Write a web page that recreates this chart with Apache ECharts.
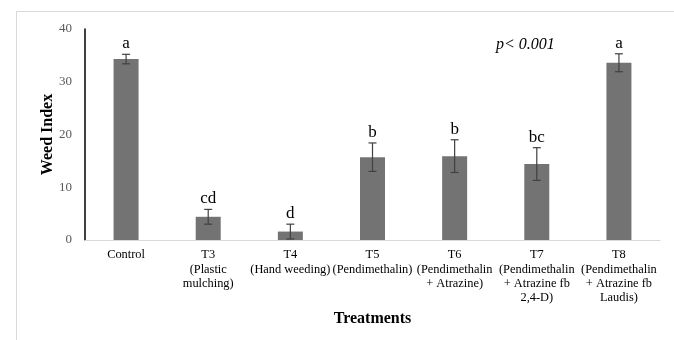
<!DOCTYPE html>
<html><head><meta charset="utf-8">
<script src="https://cdn.jsdelivr.net/npm/echarts@6/dist/echarts.min.js"></script>
<style>html,body{margin:0;padding:0;background:#fff}#c{width:674px;height:340px}</style>
</head><body><div id="c"></div>
<script>
var categories = ['Control', 'T3\n(Plastic\nmulching)', 'T4\n(Hand weeding)', 'T5\n(Pendimethalin)', 'T6\n(Pendimethalin\n+ Atrazine)', 'T7\n(Pendimethalin\n+ Atrazine fb\n2,4-D)', 'T8\n(Pendimethalin\n+ Atrazine fb\nLaudis)'];
var means = [34.3, 4.4, 1.6, 15.7, 15.9, 14.4, 33.6];
var errors = [0.9, 1.4, 1.4, 2.7, 3.1, 3.1, 1.7];
var letters = ['a', 'cd', 'd', 'b', 'b', 'bc', 'a'];
var yTicks = [0, 10, 20, 30, 40];

var chart = echarts.init(document.getElementById('c'), null, {renderer: 'canvas'});
var serif = '"Liberation Serif", "Times New Roman", serif';
var errData = means.map(function (m, i) { return [i, m, errors[i], letters[i]]; });

chart.setOption({
  animation: false,
  grid: {left: 85, right: 14, top: 29, bottom: 100},
  graphic: [
    {type: 'line', shape: {x1: 16.5, y1: 11.5, x2: 674, y2: 11.5}, style: {stroke: '#d9d9d9', lineWidth: 1}},
    {type: 'line', shape: {x1: 16.5, y1: 11.5, x2: 16.5, y2: 340}, style: {stroke: '#d9d9d9', lineWidth: 1}},
    {type: 'text', left: 496, top: 37, style: {text: 'p< 0.001', font: 'italic 16px ' + serif, fill: '#000'}}
  ],
  xAxis: {
    type: 'category', data: categories,
    name: 'Treatments', nameLocation: 'middle', nameGap: 71, nameMoveOverlap: false,
    nameTextStyle: {fontFamily: serif, fontWeight: 'bold', fontSize: 16, color: '#000'},
    axisLine: {lineStyle: {color: '#d9d9d9', width: 1}},
    axisTick: {show: false},
    axisLabel: {fontFamily: serif, fontSize: 12.4, color: '#000', lineHeight: 14.3, margin: 8, interval: 0}
  },
  yAxis: {
    type: 'value', min: 0, max: 40, interval: 10,
    name: 'Weed Index', nameLocation: 'middle', nameGap: 29, nameRotate: 90, nameMoveOverlap: false,
    nameTextStyle: {fontFamily: serif, fontWeight: 'bold', fontSize: 16, color: '#000'},
    axisLine: {show: true, lineStyle: {color: '#000', width: 1.5}},
    axisTick: {show: false},
    splitLine: {show: false},
    axisLabel: {fontFamily: serif, fontSize: 13, color: '#595959', margin: 13,
      formatter: function (v) { return yTicks.indexOf(v) >= 0 ? String(v) : ''; }}
  },
  series: [
    {type: 'bar', data: means, barWidth: 25, itemStyle: {color: '#737373'}, z: 2},
    {
      type: 'custom', data: errData, z: 3,
      encode: {x: 0, y: 1},
      renderItem: function (params, api) {
        var i = api.value(0), m = api.value(1), e = api.value(2);
        var top = api.coord([i, m + e]);
        var bot = api.coord([i, m - e]);
        var w = 4;
        var st = {stroke: '#404040', lineWidth: 1.2};
        return {
          type: 'group',
          children: [
            {type: 'line', shape: {x1: top[0], y1: top[1], x2: bot[0], y2: bot[1]}, style: st},
            {type: 'line', shape: {x1: top[0] - w, y1: top[1], x2: top[0] + w, y2: top[1]}, style: st},
            {type: 'line', shape: {x1: bot[0] - w, y1: bot[1], x2: bot[0] + w, y2: bot[1]}, style: st},
            {type: 'text', style: {text: letters[params.dataIndex], x: top[0], y: top[1] - 2,
              align: 'center', verticalAlign: 'bottom', font: '17px ' + serif, fill: '#000'}}
          ]
        };
      }
    }
  ]
});
</script></body></html>
